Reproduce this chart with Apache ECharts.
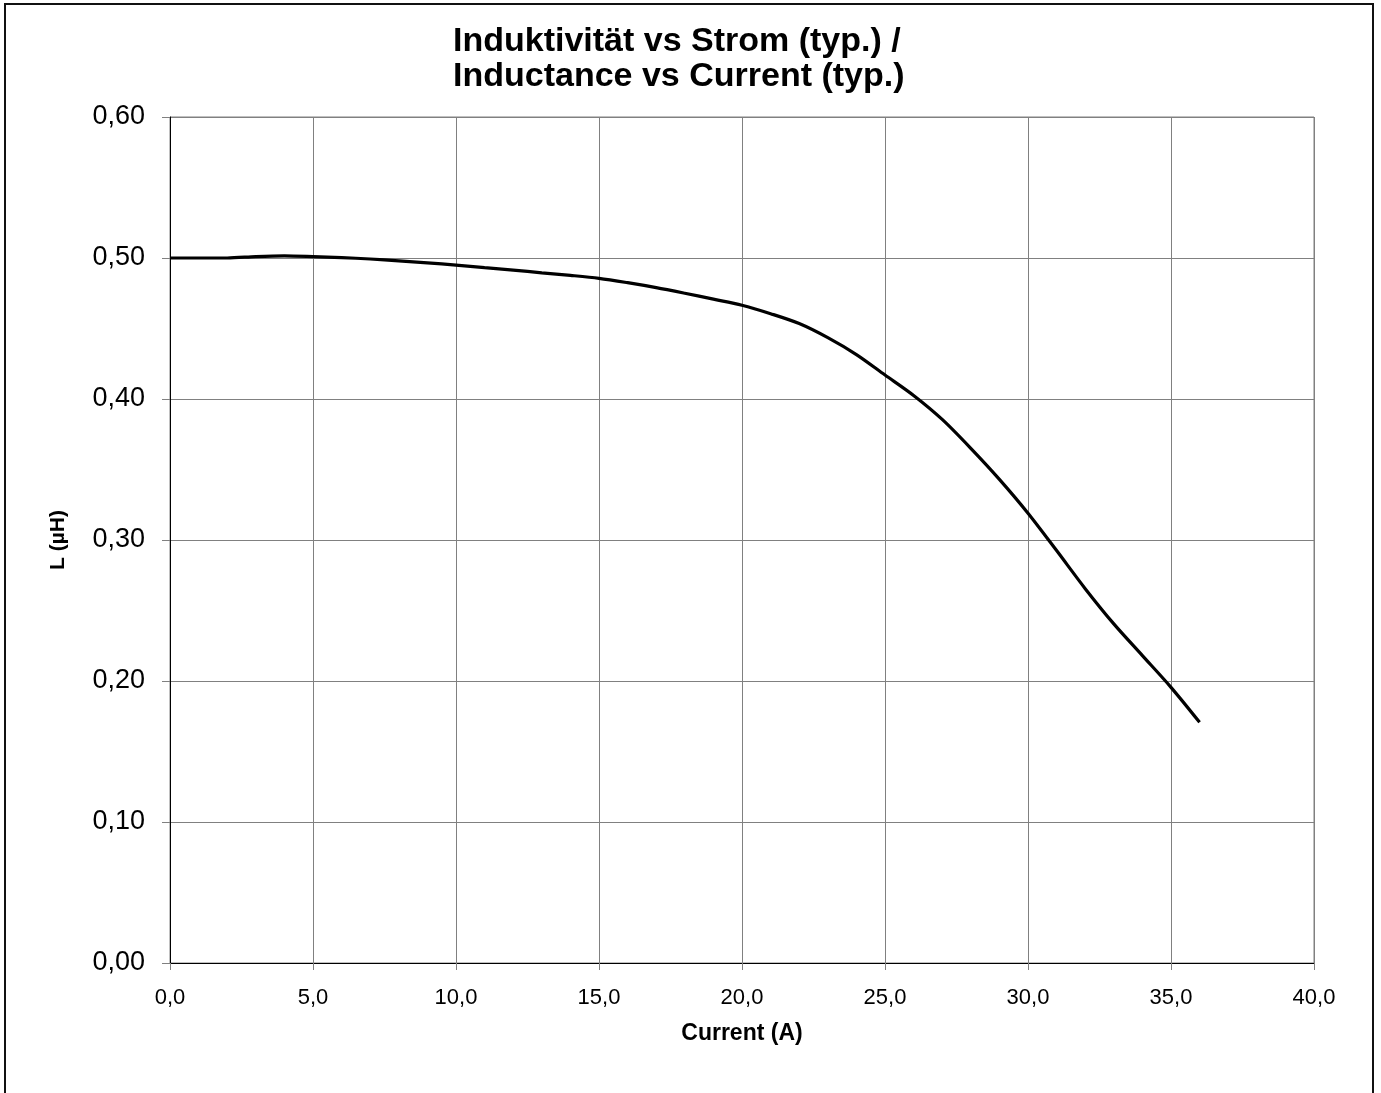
<!DOCTYPE html>
<html>
<head>
<meta charset="utf-8">
<script src="https://cdn.jsdelivr.net/npm/echarts@6/dist/echarts.min.js"></script>
<style>
html,body{margin:0;padding:0;background:#fff;}
#chart{width:1381px;height:1093px;}
</style>
</head>
<body>
<div id="chart"></div>
<script>
var currentA = [0, 1, 2, 3, 4, 5, 6, 7, 8, 9, 10, 11, 12, 13, 14, 15, 16, 17, 18, 19, 20, 21, 22, 23, 24, 25, 26, 27, 28, 29, 30, 31, 32, 33, 34, 35, 36];
var inductanceUH = [0.5000, 0.5000, 0.5000, 0.5010, 0.5015, 0.5010, 0.5003, 0.4993, 0.4980, 0.4966, 0.4950, 0.4932, 0.4914, 0.4895, 0.4877, 0.4856, 0.4825, 0.4790, 0.4750, 0.4708, 0.4665, 0.4605, 0.4535, 0.4435, 0.4315, 0.4170, 0.4025, 0.3855, 0.3650, 0.3430, 0.3190, 0.2925, 0.2655, 0.2405, 0.2180, 0.1955, 0.1707];
var xTickLabels = ['0,0', '5,0', '10,0', '15,0', '20,0', '25,0', '30,0', '35,0', '40,0'];
var yTickLabels = ['0,00', '0,10', '0,20', '0,30', '0,40', '0,50', '0,60'];

var seriesData = currentA.map(function (x, i) { return [x, inductanceUH[i]]; });
var FONT = '"Liberation Sans", Arial, sans-serif';

var chart = echarts.init(document.getElementById('chart'), null, {renderer: 'canvas'});
chart.setOption({
  backgroundColor: '#ffffff',
  animation: false,
  title: {
    text: 'Induktivität vs Strom (typ.) /\nInductance vs Current (typ.)',
    left: 448,
    top: 19,
    textStyle: {fontFamily: FONT, fontSize: 34, fontWeight: 'bold', color: '#000', lineHeight: 35}
  },
  graphic: [{
    type: 'rect',
    shape: {x: 5, y: 4, width: 1368, height: 1100},
    style: {fill: 'none', stroke: '#111', lineWidth: 2},
    silent: true
  }],
  grid: {left: 170, right: 67, top: 117, bottom: 130, show: true, borderColor: '#808080', borderWidth: 1},
  xAxis: {
    type: 'value', min: 0, max: 40, interval: 5,
    name: 'Current (A)', nameLocation: 'middle', nameGap: 59,
    nameTextStyle: {fontFamily: FONT, fontSize: 23, fontWeight: 'bold', color: '#000'},
    axisLine: {onZero: false, lineStyle: {color: '#000', width: 1}},
    axisTick: {show: true, inside: false, length: 7, lineStyle: {color: '#808080'}},
    axisLabel: {
      fontFamily: FONT, fontSize: 22, color: '#000', margin: 24,
      formatter: function (v) { return xTickLabels[Math.round(v / 5)]; }
    },
    splitLine: {show: true, lineStyle: {color: '#808080', width: 1}}
  },
  yAxis: {
    type: 'value', min: 0, max: 0.6, interval: 0.1,
    name: 'L (µH)', nameLocation: 'middle', nameGap: 101, nameRotate: 90,
    nameTextStyle: {fontFamily: FONT, fontSize: 21, fontWeight: 'bold', color: '#000'},
    axisLine: {show: true, onZero: false, lineStyle: {color: '#000', width: 1}},
    axisTick: {show: true, inside: false, length: 8, lineStyle: {color: '#808080'}},
    axisLabel: {
      fontFamily: FONT, fontSize: 27, color: '#000', margin: 25,
      formatter: function (v) { return yTickLabels[Math.round(v / 0.1)]; }
    },
    splitLine: {show: true, lineStyle: {color: '#808080', width: 1}}
  },
  series: [{
    type: 'line',
    data: seriesData,
    smooth: 0.3,
    showSymbol: false,
    lineStyle: {color: '#000', width: 3.2},
    silent: true
  }]
});
</script>
</body>
</html>
